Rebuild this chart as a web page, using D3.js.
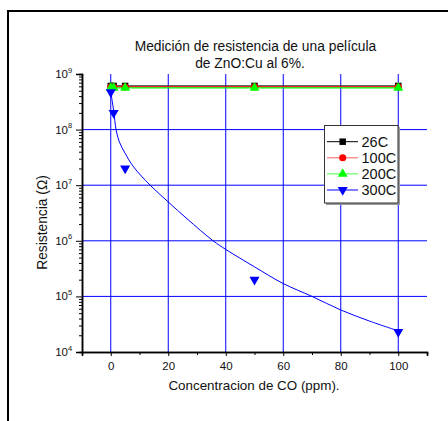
<!DOCTYPE html>
<html><head><meta charset="utf-8">
<script src="https://cdn.jsdelivr.net/npm/d3@7"></script>
<style>body{margin:0;background:#fff}svg{display:block}text{font-family:"Liberation Sans",Arial,sans-serif;fill:#111}</style>
</head><body>
<svg id="c" width="448" height="421"></svg>
<script>
const xConc = [0, 1, 5, 50, 100];
const s26 = [6.1e8, 6.1e8, 6.1e8, 6.1e8, 6.1e8];
const s100 = [5.85e8, 5.85e8, 5.85e8, 5.85e8, 5.85e8];
const s200 = [5.65e8, 5.65e8, 5.65e8, 5.65e8, 5.65e8];
const s300 = [4.7e8, 2e8, 2e7, 2e5, 2.3e4];
const fitX = [0, 1, 1.85, 3, 5, 7.9, 13.7, 20, 26.5, 35.6, 40, 50, 60, 70, 80, 90, 100];
const fitY = [4.8e8, 2.2e8, 1e8, 6e7, 3.75e7, 2.15e7, 1e7, 5e6, 2.5e6, 1e6, 7e5, 3.4e5, 1.7e5, 1e5, 5.7e4, 3.6e4, 2.4e4];
const xTicks = [0, 20, 40, 60, 80, 100];
const xMinor = [-10, 10, 30, 50, 70, 90, 110];
const yExps = [4, 5, 6, 7, 8, 9];
const legendNames = ["26C", "100C", "200C", "300C"];
const titleLines = ["Medición de resistencia de una película", "de ZnO:Cu al 6%."];

const svg = d3.select("#c");
svg.append("rect").attr("width",448).attr("height",421).attr("fill","#fff");
svg.append("line").attr("x1",7).attr("x2",448).attr("y1",11).attr("y2",11).attr("stroke","#000").attr("stroke-width",2);
svg.append("line").attr("x1",8).attr("x2",8).attr("y1",10).attr("y2",421).attr("stroke","#000").attr("stroke-width",2);

const x = d3.scaleLinear().domain([-10,110]).range([82,427]);
const y = d3.scaleLog().domain([1e4,1e9]).range([352,74]);

const g = svg.append("g");
xTicks.forEach(t=>g.append("line").attr("x1",x(t)).attr("x2",x(t)).attr("y1",y(1e9)).attr("y2",y(1e4)).attr("stroke","#0000ff").attr("stroke-width",1));
[5,6,7,8].forEach(e=>g.append("line").attr("x1",x(-10)).attr("x2",x(110)).attr("y1",y(Math.pow(10,e))).attr("y2",y(Math.pow(10,e))).attr("stroke","#0000ff").attr("stroke-width",1));

const xAxis = svg.append("g").attr("transform",`translate(0,${y(1e4)})`);
xAxis.call(d3.axisBottom(x).tickValues(xTicks).tickSize(4).tickFormat(d3.format("d")));
xAxis.append("g").call(d3.axisBottom(x).tickValues(xMinor).tickSize(3).tickFormat(""));
xAxis.selectAll(".domain").attr("stroke","#000").attr("stroke-width",1.5);
xAxis.selectAll("text").attr("font-size",11.5).attr("font-family","Liberation Sans, Arial").attr("fill","#111").attr("dy",null).attr("y",18);
xAxis.selectAll("line").attr("stroke","#000");

const minorY = [];
for (let e=4;e<9;e++) for (let m=2;m<=9;m++) minorY.push(m*Math.pow(10,e));
const yAxis = svg.append("g").attr("transform",`translate(${x(-10)},0)`);
yAxis.call(d3.axisLeft(y).tickValues(yExps.map(e=>Math.pow(10,e))).tickSize(6).tickFormat(""));
yAxis.append("g").call(d3.axisLeft(y).tickValues(minorY).tickSize(3).tickFormat(""));
yAxis.selectAll(".domain").attr("stroke","#000").attr("stroke-width",1.5);
yAxis.selectAll("line").attr("stroke","#000");
yExps.forEach(e=>{
  const yy = y(Math.pow(10,e));
  svg.append("text").attr("x",68).attr("y",yy+4).attr("text-anchor","end").attr("font-size",11.5).text("10");
  svg.append("text").attr("x",68).attr("y",yy-1.5).attr("font-size",7.5).text(e);
});

const line = d3.line().x((d,i)=>x(xConc[i])).y(d=>y(d));
const series = [
  {name:"26C", vals:s26, color:"#000", marker:"square", lc:"#333"},
  {name:"100C", vals:s100, color:"#ff0000", marker:"circle", lc:"#ff0000"},
  {name:"200C", vals:s200, color:"#00ff00", marker:"triangle", lc:"#00ff00"},
];
series.forEach(s=>{
  svg.append("path").datum(s.vals).attr("d",line).attr("fill","none").attr("stroke",s.lc).attr("stroke-width",1.2);
});
const sym = {square:d3.symbolSquare, circle:d3.symbolCircle, triangle:d3.symbolTriangle};
const size = {square:42, circle:40, triangle:42};
function drawMarker(px,py,marker,color){
  if(marker==="down"){
    svg.append("path").attr("d",d3.symbol(d3.symbolTriangle,44)()).attr("transform",`translate(${px},${py}) rotate(180)`).attr("fill",color);
  } else {
    svg.append("path").attr("d",d3.symbol(sym[marker],size[marker])()).attr("transform",`translate(${px},${py})`).attr("fill",color);
  }
}
series.forEach(s=>s.vals.forEach((v,i)=>drawMarker(x(xConc[i]),y(v),s.marker,s.color)));

const fitLine = d3.line().x((d,i)=>x(fitX[i])).y(d=>y(d)).curve(d3.curveCatmullRom.alpha(0.5));
svg.append("path").datum(fitY).attr("d",fitLine).attr("fill","none").attr("stroke","#0000ff").attr("stroke-width",1);
s300.forEach((v,i)=>drawMarker(x(xConc[i]),y(v),"down","#0000ff"));

const lg = svg.append("g");
lg.append("rect").attr("x",326).attr("y",127).attr("width",74).attr("height",78).attr("fill","#999");
lg.append("rect").attr("x",324.5).attr("y",125.5).attr("width",73.5).attr("height",77.5).attr("fill","#fff").attr("stroke","#333").attr("stroke-width",1);
const lgColors = ["#000","#ff6060","#40ff40","#0000ff"];
const lgMark = ["square","circle","triangle","down"];
const mColors = ["#000","#ff0000","#00ff00","#0000ff"];
legendNames.forEach((n,i)=>{
  const yy = 141.7 + i*16.1;
  lg.append("line").attr("x1",327).attr("x2",358).attr("y1",yy).attr("y2",yy).attr("stroke",lgColors[i]).attr("stroke-width",1);
  drawMarker(342.7,yy,lgMark[i],mColors[i]);
  svg.append("text").attr("x",361.5).attr("y",yy+5.2).attr("font-size",14.5).text(n);
});

svg.append("text").attr("x",255.5).attr("y",50.5).attr("text-anchor","middle").attr("font-size",13.8).text(titleLines[0]);
svg.append("text").attr("x",250).attr("y",68).attr("text-anchor","middle").attr("font-size",13.8).text(titleLines[1]);
svg.append("text").attr("x",254).attr("y",390).attr("text-anchor","middle").attr("font-size",13.4).text("Concentracion de CO (ppm).");
svg.append("text").attr("transform","translate(47,222.5) rotate(-90)").attr("text-anchor","middle").attr("font-size",13.8).text("Resistencia (Ω)");
</script>
</body></html>
